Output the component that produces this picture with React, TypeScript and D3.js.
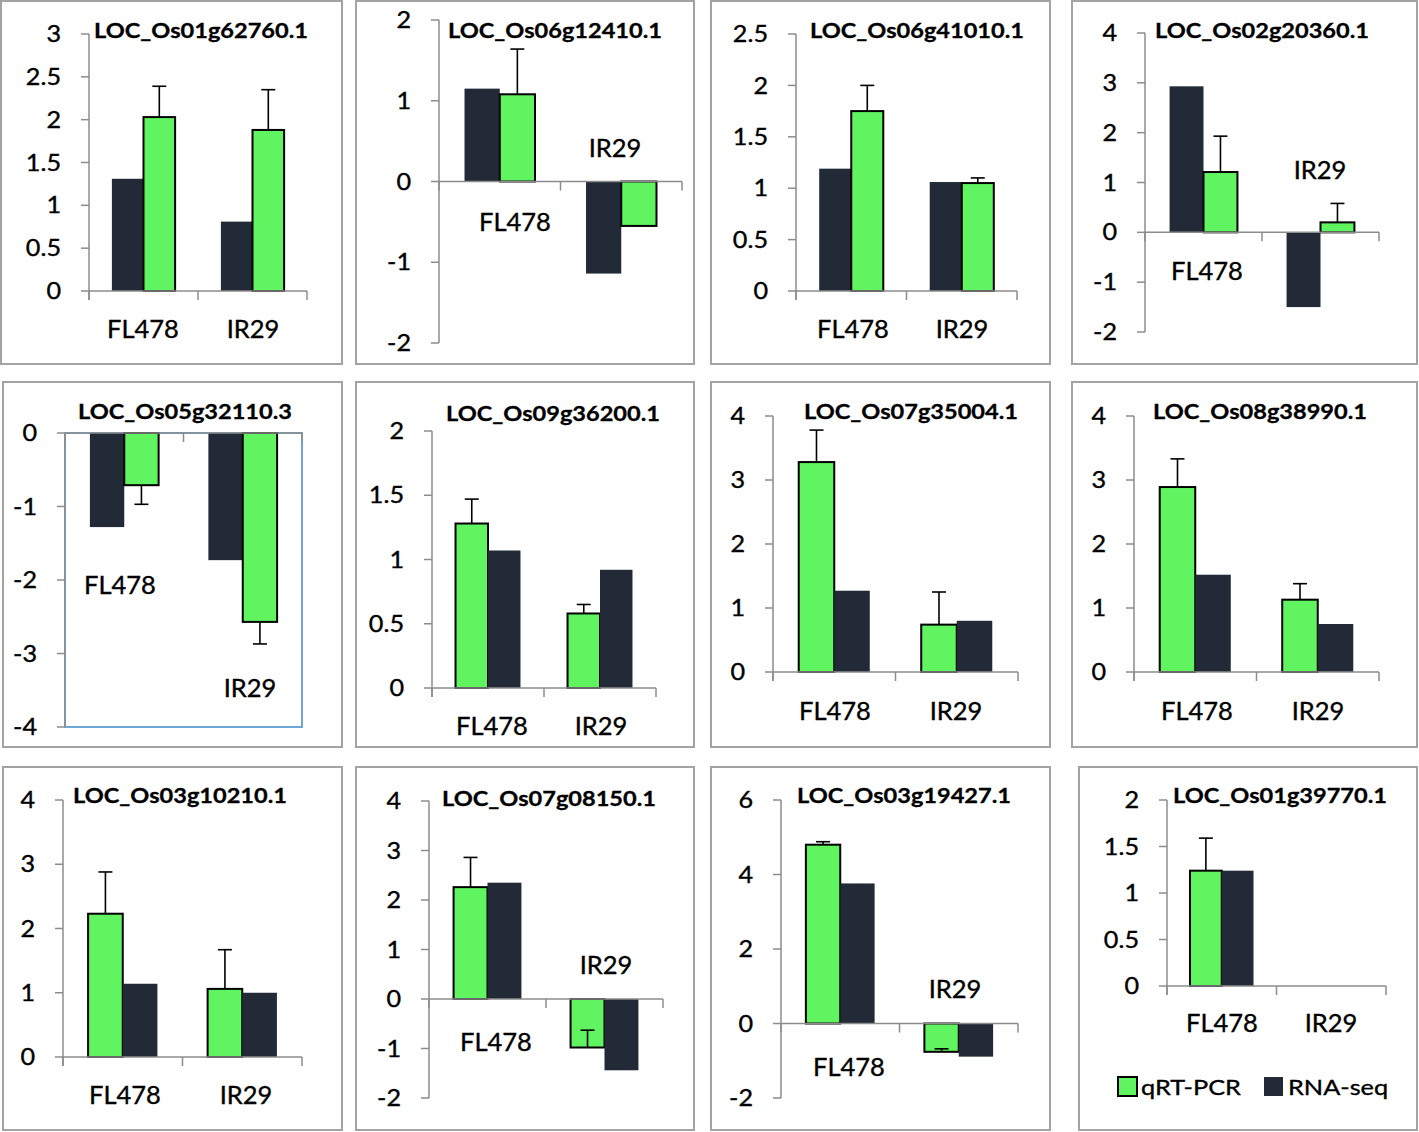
import React from 'react';
import * as d3 from 'd3';

// gene names, one per panel (row by row)
const genes = [
  'LOC_Os01g62760.1', 'LOC_Os06g12410.1', 'LOC_Os06g41010.1', 'LOC_Os02g20360.1',
  'LOC_Os05g32110.3', 'LOC_Os09g36200.1', 'LOC_Os07g35004.1', 'LOC_Os08g38990.1',
  'LOC_Os03g10210.1', 'LOC_Os07g08150.1', 'LOC_Os03g19427.1', 'LOC_Os01g39770.1',
];
const categories = ['FL478', 'IR29'];

// qRT-PCR means [FL478, IR29] and the end of each error bar
const qrtValues: (number | null)[][] = [
  [2.03, 1.88], [1.08, -0.55], [1.75, 1.05], [1.21, 0.2],
  [-0.71, -2.57], [1.28, 0.58], [3.28, 0.74], [2.89, 1.13],
  [2.23, 1.06], [2.26, -0.98], [4.8, -0.76], [1.24, null],
];
const qrtErrorEnds: (number | null)[][] = [
  [2.39, 2.35], [1.64, null], [2.0, 1.1], [1.93, 0.58],
  [-0.97, -2.87], [1.47, 0.65], [3.78, 1.25], [3.33, 1.38],
  [2.88, 1.67], [2.86, -0.63], [4.88, -0.68], [1.59, null],
];
// RNA-seq values [FL478, IR29]
const rnaValues: (number | null)[][] = [
  [1.31, 0.81], [1.15, -1.14], [1.19, 1.06], [2.93, -1.5],
  [-1.28, -1.73], [1.07, 0.92], [1.27, 0.8], [1.52, 0.75],
  [1.14, 1.0], [2.35, -1.44], [3.76, -0.89], [1.24, null],
];
// y axis domains and tick steps
const yDomains = [
  [0, 3], [-2, 2], [0, 2.5], [-2, 4],
  [-4, 0], [0, 2], [0, 4], [0, 4],
  [0, 4], [-2, 4], [-2, 6], [0, 2],
];
const yTickSteps = [0.5, 1, 0.5, 1, 1, 0.5, 1, 1, 1, 1, 2, 0.5];
// which series comes first in each group
const seriesOrder = [
  ['rna', 'qrt'], ['rna', 'qrt'], ['rna', 'qrt'], ['rna', 'qrt'],
  ['rna', 'qrt'], ['qrt', 'rna'], ['qrt', 'rna'], ['qrt', 'rna'],
  ['qrt', 'rna'], ['qrt', 'rna'], ['qrt', 'rna'], ['qrt', 'rna'],
];
const legendLabels = ['qRT-PCR', 'RNA-seq'];

// ---- layout (pixels) ----
const frames = [
  [1, 1, 342, 364], [356, 1, 694, 364], [711, 1, 1050, 364], [1072, 1, 1417, 364],
  [3, 382, 342, 747], [356, 382, 694, 747], [711, 382, 1050, 747], [1072, 382, 1417, 747],
  [3, 767, 342, 1130], [356, 767, 694, 1130], [711, 767, 1050, 1130], [1079, 767, 1417, 1130],
];
// [axis x, axis end x, y of top tick, y of bottom tick]
const plots = [
  [89, 307, 34, 291], [439, 682, 20, 343], [796, 1017, 34, 291], [1145, 1379, 33, 332],
  [65, 302, 433, 727], [432, 656, 431, 688], [773, 1018, 416, 672], [1134, 1379, 416, 672],
  [63, 302, 800, 1057], [429, 663, 801, 1098], [781, 1018, 800, 1098], [1167, 1386, 800, 986],
];
const titlePos = [
  [201, 30], [555, 30], [917, 30], [1262, 30],
  [185, 411], [553, 413], [911, 411], [1260, 411],
  [180, 795], [549, 798], [904, 795], [1280, 795],
];
// category label centres [[x,y] FL478, [x,y] IR29]
const catLabelPos = [
  [[143, 329], [253, 329]], [[515, 222], [615, 148]], [[853, 329], [962, 329]], [[1207, 271], [1320, 170]],
  [[120, 585], [250, 688]], [[492, 726], [601, 726]], [[835, 711], [956, 711]], [[1197, 711], [1318, 711]],
  [[125, 1095], [246, 1095]], [[496, 1042], [606, 965]], [[849, 1067], [955, 989]], [[1222, 1023], [1331, 1023]],
];

const GREEN = '#60f560';
const DARK = '#222a37';
const AXIS = '#8c8c8c';
const FONT = 'Lato, "Open Sans", sans-serif';

const Txt = ({ x, cy, size, sx = 1, anchor = 'middle', weight = 400, children, textLength, thick = 0 }: any) => (
  <text
    transform={`translate(${x},${cy + size * 0.36}) scale(${sx},1)`}
    textAnchor={anchor}
    fontSize={size}
    fontWeight={weight}
    fontFamily={FONT}
    fill="#000"
    stroke={thick ? '#000' : 'none'}
    strokeWidth={thick}
    textLength={textLength}
    lengthAdjust={textLength ? 'spacingAndGlyphs' : undefined}
  >
    {children}
  </text>
);

const Panel = ({ i }: { i: number }) => {
  const [fx0, fy0, fx1, fy1] = frames[i];
  const [ax, axEnd, yTop, yBot] = plots[i];
  const [d0, d1] = yDomains[i];
  const y = d3.scaleLinear().domain([d0, d1]).range([yBot, yTop]);
  const x = d3.scaleBand().domain(categories).range([ax, axEnd]);
  const barW = x.bandwidth() * 0.29;
  const zeroY = y(0);
  const ticks = d3.range(d0, d1 + 1e-9, yTickSteps[i]).map((v) => +v.toFixed(2));
  const series: Record<string, (number | null)[]> = { qrt: qrtValues[i], rna: rnaValues[i] };

  const bars: any[] = [];
  const errs: any[] = [];
  categories.forEach((c, ci) => {
    const center = (x(c) as number) + x.bandwidth() / 2;
    seriesOrder[i].forEach((s, si) => {
      const v = series[s][ci];
      if (v == null) return;
      const bx = center - barW + si * barW;
      const top = Math.min(y(v), zeroY);
      const h = Math.abs(y(v) - zeroY);
      bars.push(
        <rect key={`${s}-${c}`} x={bx} y={top} width={barW} height={h}
          fill={s === 'qrt' ? GREEN : DARK}
          stroke={s === 'qrt' ? '#000' : 'none'} strokeWidth={s === 'qrt' ? 2 : 0} />
      );
      if (s === 'qrt') {
        const e = qrtErrorEnds[i][ci];
        if (e != null) {
          const ex = bx + barW / 2;
          errs.push(
            <g key={`e-${c}`} stroke="#000" strokeWidth={1.6}>
              <line x1={ex} x2={ex} y1={y(v)} y2={y(e)} />
              <line x1={ex - 7} x2={ex + 7} y1={y(e)} y2={y(e)} />
            </g>
          );
        }
      }
    });
  });

  return (
    <g>
      <rect x={fx0} y={fy0} width={fx1 - fx0} height={fy1 - fy0} fill="#fff" stroke="#a3a3a3" strokeWidth={2} />
      {i === 4 && (
        <rect x={ax} y={yTop} width={axEnd - ax} height={yBot - yTop} fill="none" stroke="#6fa6d8" strokeWidth={2} />
      )}
      {/* y axis */}
      <line x1={ax} x2={ax} y1={yTop} y2={Math.max(yBot, zeroY + 9)} stroke={AXIS} strokeWidth={1.5} />
      {ticks.map((t) => (
        <g key={t}>
          <line x1={ax - 8} x2={ax} y1={y(t)} y2={y(t)} stroke={AXIS} strokeWidth={1.5} />
          <Txt x={ax - 28} cy={y(t)} size={22.5} sx={1.12} anchor="end" thick={0.35}>{String(t)}</Txt>
        </g>
      ))}
      {bars}
      {/* x axis */}
      <line x1={ax} x2={axEnd} y1={zeroY} y2={zeroY} stroke={AXIS} strokeWidth={1.5} />
      {[ax, ...categories.map((c) => (x(c) as number) + x.bandwidth())].map((tx, k) => (
        <line key={k} x1={tx} x2={tx} y1={zeroY} y2={zeroY + 9} stroke={AXIS} strokeWidth={1.5} />
      ))}
      {errs}
      <Txt x={titlePos[i][0]} cy={titlePos[i][1]} size={21} weight={700} textLength={214} thick={0.3}>{genes[i]}</Txt>
      {categories.map((c, ci) => (
        <Txt key={c} x={catLabelPos[i][ci][0]} cy={catLabelPos[i][ci][1]} size={24.5} sx={1.04} thick={0.35}>{c}</Txt>
      ))}
    </g>
  );
};

const Legend = () => (
  <g>
    <rect x={1118} y={1077} width={19} height={19} fill={GREEN} stroke="#000" strokeWidth={2} />
    <Txt x={1141} cy={1087} size={22} sx={1.15} anchor="start" thick={0.35}>{legendLabels[0]}</Txt>
    <rect x={1264} y={1077} width={19} height={19} fill={DARK} />
    <Txt x={1288} cy={1087} size={22} sx={1.15} anchor="start" thick={0.35}>{legendLabels[1]}</Txt>
  </g>
);

export default function App() {
  return (
    <svg width={1419} height={1132} style={{ position: 'absolute', left: 0, top: 0, background: '#fff' }}>
      {genes.map((_, i) => <Panel key={i} i={i} />)}
      <Legend />
    </svg>
  );
}
